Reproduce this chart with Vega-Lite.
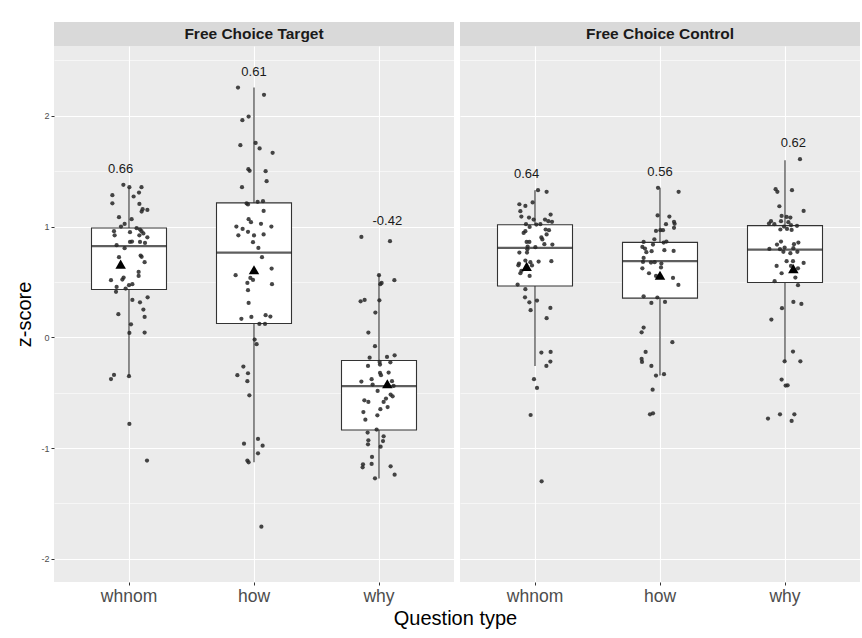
{
  "$schema": "https://vega.github.io/schema/vega-lite/v6.json",
  "background": "white",
  "padding": {"left": 14, "top": 22, "right": 3, "bottom": 6},
  "title": {"text": "Question type", "orient": "bottom", "anchor": "middle", "frame": "bounds", "fontSize": 20, "fontWeight": "normal", "color": "#000000", "offset": 4, "dx": 18},
  "datasets": {
    "targetStrip": [{"panel": "Free Choice Target"}],
    "controlStrip": [{"panel": "Free Choice Control"}],
    "targetSummary": [
      {"question": "whnom", "lower": -0.352, "q1": 0.431, "median": 0.822, "q3": 0.987, "upper": 1.355, "mean": 0.66, "max": 1.376, "label": "0.66"},
      {"question": "how", "lower": -1.129, "q1": 0.124, "median": 0.764, "q3": 1.213, "upper": 2.255, "mean": 0.61, "max": 2.255, "label": "0.61"},
      {"question": "why", "lower": -1.276, "q1": -0.837, "median": -0.442, "q3": -0.21, "upper": 0.57, "mean": -0.42, "max": 0.906, "label": "-0.42"}
    ],
    "controlSummary": [
      {"question": "whnom", "lower": -0.259, "q1": 0.463, "median": 0.807, "q3": 1.016, "upper": 1.328, "mean": 0.64, "max": 1.328, "label": "0.64"},
      {"question": "how", "lower": -0.346, "q1": 0.353, "median": 0.688, "q3": 0.857, "upper": 1.349, "mean": 0.56, "max": 1.349, "label": "0.56"},
      {"question": "why", "lower": -0.217, "q1": 0.494, "median": 0.792, "q3": 1.008, "upper": 1.599, "mean": 0.62, "max": 1.608, "label": "0.62"}
    ],
    "targetPoints": [
      {"question": "whnom", "z": 1.376, "jitter": -0.045}, {"question": "whnom", "z": 1.355, "jitter": 0.1}, {"question": "whnom", "z": 1.355, "jitter": 0.003},
      {"question": "whnom", "z": 1.283, "jitter": -0.133}, {"question": "whnom", "z": 1.307, "jitter": 0.08}, {"question": "whnom", "z": 1.271, "jitter": 0.037},
      {"question": "whnom", "z": 1.21, "jitter": -0.133}, {"question": "whnom", "z": 1.204, "jitter": 0.083}, {"question": "whnom", "z": 1.156, "jitter": 0.109},
      {"question": "whnom", "z": 1.15, "jitter": 0.147}, {"question": "whnom", "z": 1.135, "jitter": 0.101}, {"question": "whnom", "z": 1.084, "jitter": -0.08},
      {"question": "whnom", "z": 1.066, "jitter": 0.021}, {"question": "whnom", "z": 1.023, "jitter": -0.035}, {"question": "whnom", "z": 1.0, "jitter": -0.064},
      {"question": "whnom", "z": 0.985, "jitter": 0.061}, {"question": "whnom", "z": 0.973, "jitter": 0.088}, {"question": "whnom", "z": 0.958, "jitter": -0.12},
      {"question": "whnom", "z": 0.949, "jitter": 0.008}, {"question": "whnom", "z": 0.958, "jitter": 0.1}, {"question": "whnom", "z": 0.937, "jitter": 0.115},
      {"question": "whnom", "z": 0.921, "jitter": -0.115}, {"question": "whnom", "z": 0.921, "jitter": 0.083}, {"question": "whnom", "z": 0.903, "jitter": 0.147},
      {"question": "whnom", "z": 0.861, "jitter": 0.008}, {"question": "whnom", "z": 0.864, "jitter": 0.024}, {"question": "whnom", "z": 0.861, "jitter": 0.088},
      {"question": "whnom", "z": 0.852, "jitter": 0.128}, {"question": "whnom", "z": 0.831, "jitter": -0.099}, {"question": "whnom", "z": 0.804, "jitter": -0.035},
      {"question": "whnom", "z": 0.738, "jitter": 0.093}, {"question": "whnom", "z": 0.723, "jitter": -0.08}, {"question": "whnom", "z": 0.726, "jitter": 0.101},
      {"question": "whnom", "z": 0.678, "jitter": 0.125}, {"question": "whnom", "z": 0.59, "jitter": 0.077}, {"question": "whnom", "z": 0.554, "jitter": 0.077},
      {"question": "whnom", "z": 0.539, "jitter": -0.043}, {"question": "whnom", "z": 0.515, "jitter": -0.144}, {"question": "whnom", "z": 0.521, "jitter": -0.053},
      {"question": "whnom", "z": 0.479, "jitter": 0.027}, {"question": "whnom", "z": 0.47, "jitter": 0.0}, {"question": "whnom", "z": 0.454, "jitter": -0.099},
      {"question": "whnom", "z": 0.44, "jitter": -0.027}, {"question": "whnom", "z": 0.41, "jitter": -0.104}, {"question": "whnom", "z": 0.361, "jitter": 0.149},
      {"question": "whnom", "z": 0.337, "jitter": 0.027}, {"question": "whnom", "z": 0.316, "jitter": 0.088}, {"question": "whnom", "z": 0.25, "jitter": 0.115},
      {"question": "whnom", "z": 0.208, "jitter": -0.085}, {"question": "whnom", "z": 0.184, "jitter": 0.125}, {"question": "whnom", "z": 0.117, "jitter": 0.016},
      {"question": "whnom", "z": 0.039, "jitter": 0.003}, {"question": "whnom", "z": 0.042, "jitter": 0.125}, {"question": "whnom", "z": -0.34, "jitter": -0.12},
      {"question": "whnom", "z": -0.377, "jitter": -0.144}, {"question": "whnom", "z": -0.352, "jitter": 0.0}, {"question": "whnom", "z": -0.783, "jitter": 0.003},
      {"question": "whnom", "z": -1.114, "jitter": 0.144},
      {"question": "how", "z": 2.255, "jitter": -0.128}, {"question": "how", "z": 2.189, "jitter": 0.08}, {"question": "how", "z": 1.993, "jitter": -0.043},
      {"question": "how", "z": 1.96, "jitter": -0.093}, {"question": "how", "z": 1.734, "jitter": -0.109}, {"question": "how", "z": 1.755, "jitter": 0.013},
      {"question": "how", "z": 1.705, "jitter": 0.045}, {"question": "how", "z": 1.665, "jitter": 0.149}, {"question": "how", "z": 1.518, "jitter": -0.045},
      {"question": "how", "z": 1.503, "jitter": -0.035}, {"question": "how", "z": 1.5, "jitter": 0.093}, {"question": "how", "z": 1.409, "jitter": 0.101},
      {"question": "how", "z": 1.355, "jitter": -0.096}, {"question": "how", "z": 1.208, "jitter": -0.059}, {"question": "how", "z": 1.199, "jitter": -0.048},
      {"question": "how", "z": 1.223, "jitter": 0.029}, {"question": "how", "z": 1.229, "jitter": 0.072}, {"question": "how", "z": 1.141, "jitter": 0.077},
      {"question": "how", "z": 1.066, "jitter": -0.043}, {"question": "how", "z": 1.039, "jitter": -0.024}, {"question": "how", "z": 1.024, "jitter": 0.056},
      {"question": "how", "z": 1.0, "jitter": -0.141}, {"question": "how", "z": 0.978, "jitter": -0.091}, {"question": "how", "z": 1.0, "jitter": 0.139},
      {"question": "how", "z": 0.952, "jitter": -0.048}, {"question": "how", "z": 0.921, "jitter": -0.125}, {"question": "how", "z": 0.919, "jitter": 0.0},
      {"question": "how", "z": 0.928, "jitter": 0.077}, {"question": "how", "z": 0.858, "jitter": -0.008}, {"question": "how", "z": 0.807, "jitter": 0.035},
      {"question": "how", "z": 0.723, "jitter": 0.064}, {"question": "how", "z": 0.62, "jitter": 0.141}, {"question": "how", "z": 0.56, "jitter": -0.147},
      {"question": "how", "z": 0.536, "jitter": -0.029}, {"question": "how", "z": 0.518, "jitter": -0.008}, {"question": "how", "z": 0.491, "jitter": -0.053},
      {"question": "how", "z": 0.479, "jitter": 0.144}, {"question": "how", "z": 0.425, "jitter": -0.048}, {"question": "how", "z": 0.31, "jitter": -0.043},
      {"question": "how", "z": 0.166, "jitter": -0.101}, {"question": "how", "z": 0.184, "jitter": -0.021}, {"question": "how", "z": 0.199, "jitter": 0.093},
      {"question": "how", "z": 0.187, "jitter": 0.131}, {"question": "how", "z": 0.12, "jitter": 0.043}, {"question": "how", "z": 0.12, "jitter": 0.088},
      {"question": "how", "z": -0.021, "jitter": 0.005}, {"question": "how", "z": -0.063, "jitter": 0.021}, {"question": "how", "z": -0.265, "jitter": -0.085},
      {"question": "how", "z": -0.343, "jitter": -0.133}, {"question": "how", "z": -0.325, "jitter": -0.048}, {"question": "how", "z": -0.397, "jitter": -0.053},
      {"question": "how", "z": -0.524, "jitter": -0.037}, {"question": "how", "z": -0.918, "jitter": 0.032}, {"question": "how", "z": -0.961, "jitter": -0.08},
      {"question": "how", "z": -0.979, "jitter": 0.069}, {"question": "how", "z": -1.048, "jitter": 0.032}, {"question": "how", "z": -1.114, "jitter": -0.053},
      {"question": "how", "z": -1.129, "jitter": -0.043}, {"question": "how", "z": -1.71, "jitter": 0.059},
      {"question": "why", "z": 0.906, "jitter": -0.141}, {"question": "why", "z": 0.867, "jitter": 0.088}, {"question": "why", "z": 0.56, "jitter": 0.0},
      {"question": "why", "z": 0.491, "jitter": 0.021}, {"question": "why", "z": 0.479, "jitter": 0.011}, {"question": "why", "z": 0.515, "jitter": 0.123},
      {"question": "why", "z": 0.325, "jitter": -0.147}, {"question": "why", "z": 0.337, "jitter": -0.115}, {"question": "why", "z": 0.334, "jitter": 0.003},
      {"question": "why", "z": 0.223, "jitter": -0.029}, {"question": "why", "z": 0.042, "jitter": -0.085}, {"question": "why", "z": -0.081, "jitter": -0.032},
      {"question": "why", "z": -0.184, "jitter": -0.075}, {"question": "why", "z": -0.178, "jitter": 0.064}, {"question": "why", "z": -0.163, "jitter": 0.125},
      {"question": "why", "z": -0.223, "jitter": 0.005}, {"question": "why", "z": -0.226, "jitter": 0.091}, {"question": "why", "z": -0.259, "jitter": -0.088},
      {"question": "why", "z": -0.247, "jitter": 0.008}, {"question": "why", "z": -0.322, "jitter": 0.008}, {"question": "why", "z": -0.319, "jitter": 0.077},
      {"question": "why", "z": -0.343, "jitter": 0.016}, {"question": "why", "z": -0.379, "jitter": -0.059}, {"question": "why", "z": -0.427, "jitter": -0.051},
      {"question": "why", "z": -0.4, "jitter": -0.141}, {"question": "why", "z": -0.397, "jitter": 0.104}, {"question": "why", "z": -0.44, "jitter": 0.117},
      {"question": "why", "z": -0.485, "jitter": -0.011}, {"question": "why", "z": -0.518, "jitter": 0.093}, {"question": "why", "z": -0.533, "jitter": 0.109},
      {"question": "why", "z": -0.554, "jitter": 0.056}, {"question": "why", "z": -0.569, "jitter": -0.117}, {"question": "why", "z": -0.584, "jitter": -0.085},
      {"question": "why", "z": -0.584, "jitter": 0.037}, {"question": "why", "z": -0.63, "jitter": 0.069}, {"question": "why", "z": -0.65, "jitter": 0.011},
      {"question": "why", "z": -0.675, "jitter": -0.125}, {"question": "why", "z": -0.705, "jitter": -0.013}, {"question": "why", "z": -0.744, "jitter": -0.109},
      {"question": "why", "z": -0.834, "jitter": -0.019}, {"question": "why", "z": -0.861, "jitter": -0.091}, {"question": "why", "z": -0.93, "jitter": -0.085},
      {"question": "why", "z": -0.894, "jitter": 0.037}, {"question": "why", "z": -0.937, "jitter": 0.032}, {"question": "why", "z": -0.967, "jitter": -0.088},
      {"question": "why", "z": -0.988, "jitter": 0.013}, {"question": "why", "z": -1.081, "jitter": -0.056}, {"question": "why", "z": -1.147, "jitter": -0.128},
      {"question": "why", "z": -1.144, "jitter": -0.059}, {"question": "why", "z": -1.174, "jitter": -0.131}, {"question": "why", "z": -1.165, "jitter": 0.093},
      {"question": "why", "z": -1.241, "jitter": 0.125}, {"question": "why", "z": -1.274, "jitter": -0.032}
    ],
    "controlPoints": [
      {"question": "whnom", "z": 1.328, "jitter": 0.024}, {"question": "whnom", "z": 1.313, "jitter": 0.093}, {"question": "whnom", "z": 1.201, "jitter": -0.125},
      {"question": "whnom", "z": 1.186, "jitter": -0.077}, {"question": "whnom", "z": 1.217, "jitter": -0.019}, {"question": "whnom", "z": 1.138, "jitter": -0.117},
      {"question": "whnom", "z": 1.108, "jitter": 0.125}, {"question": "whnom", "z": 1.09, "jitter": -0.109}, {"question": "whnom", "z": 1.081, "jitter": -0.048},
      {"question": "whnom", "z": 1.063, "jitter": -0.011}, {"question": "whnom", "z": 1.063, "jitter": 0.08}, {"question": "whnom", "z": 1.048, "jitter": 0.107},
      {"question": "whnom", "z": 1.042, "jitter": 0.136}, {"question": "whnom", "z": 1.021, "jitter": -0.072}, {"question": "whnom", "z": 1.018, "jitter": 0.011},
      {"question": "whnom", "z": 1.021, "jitter": 0.043}, {"question": "whnom", "z": 0.996, "jitter": -0.043}, {"question": "whnom", "z": 0.973, "jitter": 0.085},
      {"question": "whnom", "z": 0.967, "jitter": 0.112}, {"question": "whnom", "z": 0.958, "jitter": -0.077}, {"question": "whnom", "z": 0.942, "jitter": -0.091},
      {"question": "whnom", "z": 0.928, "jitter": 0.093}, {"question": "whnom", "z": 0.901, "jitter": 0.051}, {"question": "whnom", "z": 0.883, "jitter": 0.059},
      {"question": "whnom", "z": 0.861, "jitter": -0.067}, {"question": "whnom", "z": 0.861, "jitter": -0.045}, {"question": "whnom", "z": 0.84, "jitter": 0.075},
      {"question": "whnom", "z": 0.837, "jitter": 0.139}, {"question": "whnom", "z": 0.819, "jitter": -0.059}, {"question": "whnom", "z": 0.813, "jitter": 0.003},
      {"question": "whnom", "z": 0.795, "jitter": -0.061}, {"question": "whnom", "z": 0.765, "jitter": -0.125}, {"question": "whnom", "z": 0.765, "jitter": -0.064},
      {"question": "whnom", "z": 0.693, "jitter": -0.077}, {"question": "whnom", "z": 0.687, "jitter": 0.131}, {"question": "whnom", "z": 0.678, "jitter": -0.037},
      {"question": "whnom", "z": 0.684, "jitter": 0.029}, {"question": "whnom", "z": 0.666, "jitter": -0.128}, {"question": "whnom", "z": 0.65, "jitter": -0.133},
      {"question": "whnom", "z": 0.648, "jitter": -0.024}, {"question": "whnom", "z": 0.599, "jitter": -0.109}, {"question": "whnom", "z": 0.578, "jitter": -0.117},
      {"question": "whnom", "z": 0.554, "jitter": -0.043}, {"question": "whnom", "z": 0.476, "jitter": -0.139}, {"question": "whnom", "z": 0.434, "jitter": -0.077},
      {"question": "whnom", "z": 0.361, "jitter": -0.08}, {"question": "whnom", "z": 0.331, "jitter": 0.016}, {"question": "whnom", "z": 0.316, "jitter": -0.045},
      {"question": "whnom", "z": 0.244, "jitter": -0.035}, {"question": "whnom", "z": 0.265, "jitter": 0.123}, {"question": "whnom", "z": 0.172, "jitter": 0.093},
      {"question": "whnom", "z": -0.138, "jitter": 0.051}, {"question": "whnom", "z": -0.133, "jitter": 0.125}, {"question": "whnom", "z": -0.22, "jitter": 0.123},
      {"question": "whnom", "z": -0.259, "jitter": 0.091}, {"question": "whnom", "z": -0.379, "jitter": -0.008}, {"question": "whnom", "z": -0.458, "jitter": 0.016},
      {"question": "whnom", "z": -0.702, "jitter": -0.035}, {"question": "whnom", "z": -1.301, "jitter": 0.053},
      {"question": "how", "z": 1.349, "jitter": -0.016}, {"question": "how", "z": 1.313, "jitter": 0.149}, {"question": "how", "z": 1.1, "jitter": -0.019},
      {"question": "how", "z": 1.09, "jitter": 0.075}, {"question": "how", "z": 1.021, "jitter": 0.048}, {"question": "how", "z": 1.042, "jitter": 0.112},
      {"question": "how", "z": 1.024, "jitter": 0.117}, {"question": "how", "z": 0.988, "jitter": 0.112}, {"question": "how", "z": 0.96, "jitter": -0.032},
      {"question": "how", "z": 0.967, "jitter": 0.003}, {"question": "how", "z": 0.967, "jitter": 0.024}, {"question": "how", "z": 0.885, "jitter": -0.045},
      {"question": "how", "z": 0.861, "jitter": -0.131}, {"question": "how", "z": 0.855, "jitter": 0.029}, {"question": "how", "z": 0.864, "jitter": 0.051},
      {"question": "how", "z": 0.837, "jitter": -0.056}, {"question": "how", "z": 0.816, "jitter": -0.141}, {"question": "how", "z": 0.801, "jitter": -0.12},
      {"question": "how", "z": 0.768, "jitter": -0.109}, {"question": "how", "z": 0.777, "jitter": -0.067}, {"question": "how", "z": 0.786, "jitter": 0.035},
      {"question": "how", "z": 0.78, "jitter": 0.109}, {"question": "how", "z": 0.716, "jitter": -0.131}, {"question": "how", "z": 0.68, "jitter": -0.136},
      {"question": "how", "z": 0.675, "jitter": -0.072}, {"question": "how", "z": 0.678, "jitter": -0.043}, {"question": "how", "z": 0.666, "jitter": 0.011},
      {"question": "how", "z": 0.623, "jitter": -0.141}, {"question": "how", "z": 0.63, "jitter": 0.008}, {"question": "how", "z": 0.578, "jitter": -0.088},
      {"question": "how", "z": 0.554, "jitter": -0.032}, {"question": "how", "z": 0.536, "jitter": 0.104}, {"question": "how", "z": 0.472, "jitter": 0.147},
      {"question": "how", "z": 0.37, "jitter": -0.131}, {"question": "how", "z": 0.359, "jitter": -0.021}, {"question": "how", "z": 0.31, "jitter": -0.069},
      {"question": "how", "z": 0.319, "jitter": 0.04}, {"question": "how", "z": 0.088, "jitter": -0.131}, {"question": "how", "z": 0.045, "jitter": -0.147},
      {"question": "how", "z": -0.045, "jitter": 0.099}, {"question": "how", "z": -0.133, "jitter": -0.115}, {"question": "how", "z": -0.196, "jitter": -0.147},
      {"question": "how", "z": -0.223, "jitter": -0.144}, {"question": "how", "z": -0.259, "jitter": -0.069}, {"question": "how", "z": -0.346, "jitter": -0.032},
      {"question": "how", "z": -0.334, "jitter": 0.032}, {"question": "how", "z": -0.473, "jitter": -0.059}, {"question": "how", "z": -0.696, "jitter": -0.08},
      {"question": "how", "z": -0.687, "jitter": -0.056},
      {"question": "why", "z": 1.608, "jitter": 0.12}, {"question": "why", "z": 1.337, "jitter": -0.075}, {"question": "why", "z": 1.313, "jitter": -0.061},
      {"question": "why", "z": 1.328, "jitter": 0.056}, {"question": "why", "z": 1.183, "jitter": -0.045}, {"question": "why", "z": 1.141, "jitter": 0.149},
      {"question": "why", "z": 1.096, "jitter": -0.027}, {"question": "why", "z": 1.087, "jitter": 0.013}, {"question": "why", "z": 1.081, "jitter": 0.043},
      {"question": "why", "z": 1.048, "jitter": -0.112}, {"question": "why", "z": 1.048, "jitter": -0.032}, {"question": "why", "z": 1.039, "jitter": 0.027},
      {"question": "why", "z": 1.027, "jitter": -0.128}, {"question": "why", "z": 1.021, "jitter": -0.085}, {"question": "why", "z": 1.012, "jitter": 0.048},
      {"question": "why", "z": 1.006, "jitter": 0.096}, {"question": "why", "z": 1.0, "jitter": -0.008}, {"question": "why", "z": 0.978, "jitter": 0.016},
      {"question": "why", "z": 0.973, "jitter": -0.037}, {"question": "why", "z": 0.969, "jitter": 0.053}, {"question": "why", "z": 0.864, "jitter": -0.032},
      {"question": "why", "z": 0.837, "jitter": -0.064}, {"question": "why", "z": 0.855, "jitter": 0.107}, {"question": "why", "z": 0.84, "jitter": 0.072},
      {"question": "why", "z": 0.81, "jitter": -0.003}, {"question": "why", "z": 0.798, "jitter": -0.125}, {"question": "why", "z": 0.795, "jitter": -0.04},
      {"question": "why", "z": 0.804, "jitter": 0.067}, {"question": "why", "z": 0.771, "jitter": -0.013}, {"question": "why", "z": 0.771, "jitter": 0.099},
      {"question": "why", "z": 0.759, "jitter": 0.043}, {"question": "why", "z": 0.687, "jitter": 0.013}, {"question": "why", "z": 0.687, "jitter": 0.064},
      {"question": "why", "z": 0.671, "jitter": 0.149}, {"question": "why", "z": 0.644, "jitter": -0.067}, {"question": "why", "z": 0.644, "jitter": 0.048},
      {"question": "why", "z": 0.623, "jitter": 0.104}, {"question": "why", "z": 0.578, "jitter": -0.027}, {"question": "why", "z": 0.539, "jitter": 0.083},
      {"question": "why", "z": 0.506, "jitter": -0.083}, {"question": "why", "z": 0.47, "jitter": 0.104}, {"question": "why", "z": 0.319, "jitter": 0.067},
      {"question": "why", "z": 0.301, "jitter": 0.131}, {"question": "why", "z": 0.262, "jitter": -0.024}, {"question": "why", "z": 0.16, "jitter": -0.109},
      {"question": "why", "z": -0.129, "jitter": 0.064}, {"question": "why", "z": -0.217, "jitter": -0.003}, {"question": "why", "z": -0.217, "jitter": 0.123},
      {"question": "why", "z": -0.382, "jitter": -0.027}, {"question": "why", "z": -0.436, "jitter": 0.005}, {"question": "why", "z": -0.434, "jitter": 0.021},
      {"question": "why", "z": -0.734, "jitter": -0.136}, {"question": "why", "z": -0.696, "jitter": -0.04}, {"question": "why", "z": -0.696, "jitter": 0.075},
      {"question": "why", "z": -0.756, "jitter": 0.053}
    ]
  },
  "spacing": 6,
  "hconcat": [
    {
      "spacing": 0,
      "vconcat": [
        {
          "width": 400, "height": 24,
          "data": {"name": "targetStrip"},
          "view": {"fill": "#d9d9d9", "stroke": null},
          "mark": {"type": "text", "fontSize": 15.5, "fontWeight": "bold", "color": "#1a1a1a"},
          "encoding": {"text": {"field": "panel", "type": "nominal"}}
        },
        {
          "width": 400, "height": 536,
          "view": {"fill": "#ebebeb", "stroke": null},
          "resolve": {"scale": {"x": "independent", "xOffset": "independent"}, "axis": {"x": "independent"}},
          "layer": [
            {
              "data": {"name": "targetSummary"},
              "layer": [
                {
                  "mark": {"type": "rule", "color": "#333333", "strokeWidth": 1.1},
                  "encoding": {
                    "x": {"field": "question", "type": "nominal", "sort": ["whnom", "how", "why"],
                          "scale": {"domain": ["whnom", "how", "why"], "paddingInner": 0, "paddingOuter": 0.1},
                          "axis": {"title": null, "grid": true, "gridColor": "#ffffff", "gridWidth": 1.1, "bandPosition": 0.5, "domain": false,
                                   "tickSize": 3, "tickColor": "#333333", "labelFontSize": 17.5, "labelColor": "#4d4d4d", "labelPadding": 2, "labelAngle": 0}},
                    "y": {"field": "lower", "type": "quantitative",
                          "scale": {"domain": [-2.21, 2.63], "nice": false, "zero": false},
                          "axis": {"title": "z-score", "titleFontSize": 20, "titleFontWeight": "normal", "titleColor": "#000000", "titlePadding": 6,
                                   "values": [-2, -1.5, -1, -0.5, 0, 0.5, 1, 1.5, 2, 2.5],
                                   "labelExpr": "datum.value % 1 === 0 ? '' + datum.value : ''",
                                   "grid": true, "gridColor": "#ffffff",
                                   "gridWidth": {"condition": {"test": "datum.value % 1 === 0", "value": 1.1}, "value": 0.55},
                                   "domain": false, "tickSize": 3, "tickColor": "#333333",
                                   "tickOpacity": {"condition": {"test": "datum.value % 1 === 0", "value": 1}, "value": 0},
                                   "labelFontSize": 9, "labelColor": "#4d4d4d", "labelPadding": 2}},
                    "y2": {"field": "upper"}
                  }
                },
                {
                  "mark": {"type": "bar", "fill": "#ffffff", "stroke": "#333333", "strokeWidth": 1.1, "width": {"band": 0.6}},
                  "encoding": {
                    "x": {"field": "question", "type": "nominal"},
                    "y": {"field": "q1", "type": "quantitative"},
                    "y2": {"field": "q3"}
                  }
                },
                {
                  "mark": {"type": "tick", "color": "#1a1a1a", "size": 75, "thickness": 2.2},
                  "encoding": {
                    "x": {"field": "question", "type": "nominal"},
                    "y": {"field": "median", "type": "quantitative"}
                  }
                }
              ]
            },
            {
              "data": {"name": "targetPoints"},
              "mark": {"type": "circle", "size": 18, "color": "#262626", "opacity": 0.85},
              "encoding": {
                "x": {"field": "question", "type": "nominal", "sort": ["whnom", "how", "why"],
                      "scale": {"domain": ["whnom", "how", "why"], "paddingInner": 0, "paddingOuter": 0.1}, "axis": null},
                "xOffset": {"field": "jitter", "type": "quantitative", "scale": {"domain": [-0.5, 0.5]}},
                "y": {"field": "z", "type": "quantitative"}
              }
            },
            {
              "data": {"name": "targetSummary"},
              "layer": [
                {
                  "mark": {"type": "point", "shape": "triangle-up", "filled": true, "size": 110, "color": "#000000", "opacity": 1},
                  "encoding": {
                    "x": {"field": "question", "type": "nominal", "sort": ["whnom", "how", "why"],
                          "scale": {"domain": ["whnom", "how", "why"], "paddingInner": 0, "paddingOuter": 0.1}, "axis": null},
                    "y": {"field": "mean", "type": "quantitative"}
                  }
                },
                {
                  "mark": {"type": "text", "fontSize": 13, "color": "#1a1a1a", "dy": -16, "baseline": "middle"},
                  "encoding": {
                    "x": {"field": "question", "type": "nominal"},
                    "y": {"field": "max", "type": "quantitative"},
                    "text": {"field": "label", "type": "nominal"}
                  }
                }
              ]
            }
          ]
        }
      ]
    },
    {
      "spacing": 0,
      "vconcat": [
        {
          "width": 400, "height": 24,
          "data": {"name": "controlStrip"},
          "view": {"fill": "#d9d9d9", "stroke": null},
          "mark": {"type": "text", "fontSize": 15.5, "fontWeight": "bold", "color": "#1a1a1a"},
          "encoding": {"text": {"field": "panel", "type": "nominal"}}
        },
        {
          "width": 400, "height": 536,
          "view": {"fill": "#ebebeb", "stroke": null},
          "resolve": {"scale": {"x": "independent", "xOffset": "independent"}, "axis": {"x": "independent"}},
          "layer": [
            {
              "data": {"name": "controlSummary"},
              "layer": [
                {
                  "mark": {"type": "rule", "color": "#333333", "strokeWidth": 1.1},
                  "encoding": {
                    "x": {"field": "question", "type": "nominal", "sort": ["whnom", "how", "why"],
                          "scale": {"domain": ["whnom", "how", "why"], "paddingInner": 0, "paddingOuter": 0.1},
                          "axis": {"title": null, "grid": true, "gridColor": "#ffffff", "gridWidth": 1.1, "bandPosition": 0.5, "domain": false,
                                   "tickSize": 3, "tickColor": "#333333", "labelFontSize": 17.5, "labelColor": "#4d4d4d", "labelPadding": 2, "labelAngle": 0}},
                    "y": {"field": "lower", "type": "quantitative",
                          "scale": {"domain": [-2.21, 2.63], "nice": false, "zero": false},
                          "axis": {"title": null, "labels": false, "ticks": false, "domain": false,
                                   "values": [-2, -1.5, -1, -0.5, 0, 0.5, 1, 1.5, 2, 2.5],
                                   "grid": true, "gridColor": "#ffffff",
                                   "gridWidth": {"condition": {"test": "datum.value % 1 === 0", "value": 1.1}, "value": 0.55}}},
                    "y2": {"field": "upper"}
                  }
                },
                {
                  "mark": {"type": "bar", "fill": "#ffffff", "stroke": "#333333", "strokeWidth": 1.1, "width": {"band": 0.6}},
                  "encoding": {
                    "x": {"field": "question", "type": "nominal"},
                    "y": {"field": "q1", "type": "quantitative"},
                    "y2": {"field": "q3"}
                  }
                },
                {
                  "mark": {"type": "tick", "color": "#1a1a1a", "size": 75, "thickness": 2.2},
                  "encoding": {
                    "x": {"field": "question", "type": "nominal"},
                    "y": {"field": "median", "type": "quantitative"}
                  }
                }
              ]
            },
            {
              "data": {"name": "controlPoints"},
              "mark": {"type": "circle", "size": 18, "color": "#262626", "opacity": 0.85},
              "encoding": {
                "x": {"field": "question", "type": "nominal", "sort": ["whnom", "how", "why"],
                      "scale": {"domain": ["whnom", "how", "why"], "paddingInner": 0, "paddingOuter": 0.1}, "axis": null},
                "xOffset": {"field": "jitter", "type": "quantitative", "scale": {"domain": [-0.5, 0.5]}},
                "y": {"field": "z", "type": "quantitative"}
              }
            },
            {
              "data": {"name": "controlSummary"},
              "layer": [
                {
                  "mark": {"type": "point", "shape": "triangle-up", "filled": true, "size": 110, "color": "#000000", "opacity": 1},
                  "encoding": {
                    "x": {"field": "question", "type": "nominal", "sort": ["whnom", "how", "why"],
                          "scale": {"domain": ["whnom", "how", "why"], "paddingInner": 0, "paddingOuter": 0.1}, "axis": null},
                    "y": {"field": "mean", "type": "quantitative"}
                  }
                },
                {
                  "mark": {"type": "text", "fontSize": 13, "color": "#1a1a1a", "dy": -16, "baseline": "middle"},
                  "encoding": {
                    "x": {"field": "question", "type": "nominal"},
                    "y": {"field": "max", "type": "quantitative"},
                    "text": {"field": "label", "type": "nominal"}
                  }
                }
              ]
            }
          ]
        }
      ]
    }
  ],
  "config": {
    "font": "Liberation Sans",
    "view": {"stroke": null},
    "axis": {"labelFont": "Liberation Sans", "titleFont": "Liberation Sans"}
  }
}
